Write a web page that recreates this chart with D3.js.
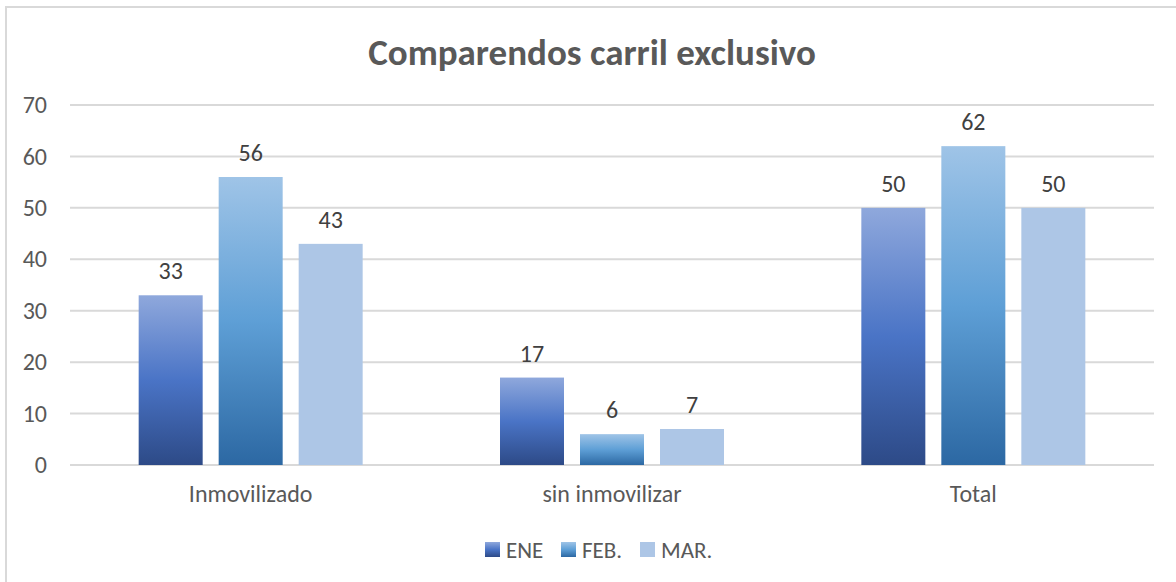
<!DOCTYPE html>
<html>
<head>
<meta charset="utf-8">
<script src="https://cdn.jsdelivr.net/npm/d3@7"></script>
<style>
  body { margin: 0; background: #fff; }
  text { font-family: Carlito, "Open Sans", "Liberation Sans", sans-serif; }
</style>
</head>
<body>
<script>
var categorias = ["Inmovilizado", "sin inmovilizar", "Total"];
var series = ["ENE", "FEB.", "MAR."];
var valores = [
  [33, 56, 43],
  [17, 6, 7],
  [50, 62, 50]
];
var ticksY = [0, 10, 20, 30, 40, 50, 60, 70];

var svg = d3.select("body").append("svg").attr("width", 1176).attr("height", 582);

// borde del grafico
svg.append("rect").attr("x", 6).attr("y", 7).attr("width", 1180).attr("height", 590)
  .attr("fill", "#fff").attr("stroke", "#d9d9d9").attr("stroke-width", 2);

// gradientes tipo Excel
var defs = svg.append("defs");
function gradiente(id, c1, c2, c3) {
  var g = defs.append("linearGradient").attr("id", id).attr("x1", 0).attr("y1", 0).attr("x2", 0).attr("y2", 1);
  g.append("stop").attr("offset", "0%").attr("stop-color", c1);
  g.append("stop").attr("offset", "50%").attr("stop-color", c2);
  g.append("stop").attr("offset", "100%").attr("stop-color", c3);
}
gradiente("g0", "#8fa8dc", "#4a74c6", "#2d4a87");
gradiente("g1", "#9fc4e7", "#5e9fd6", "#2c68a3");
var rellenos = ["url(#g0)", "url(#g1)", "#adc6e6"];

var y = d3.scaleLinear().domain([0, 70]).range([465, 105]);
var x0 = d3.scaleBand().domain(categorias).range([70, 1154]);
var x1 = d3.scaleBand().domain(series).range([0, 224]).paddingInner(0.2);
var off = (x0.bandwidth() - 224) / 2;

// titulo
svg.append("text").attr("x", 592).attr("y", 65).attr("text-anchor", "middle")
  .attr("font-size", 37).attr("font-weight", "bold").attr("fill", "#595959")
  .text("Comparendos carril exclusivo");

// lineas de cuadricula
svg.append("g").selectAll("line").data(ticksY).enter().append("line")
  .attr("x1", 70).attr("x2", 1154)
  .attr("y1", function (d) { return y(d); }).attr("y2", function (d) { return y(d); })
  .attr("stroke", "#d9d9d9").attr("stroke-width", 2);

// eje y
var ejeY = svg.append("g").attr("transform", "translate(47,0)")
  .call(d3.axisLeft(y).tickValues(ticksY).tickSize(0).tickPadding(0));
ejeY.select(".domain").remove();
ejeY.selectAll("text").attr("font-size", 24).attr("fill", "#595959")
  .style("font-family", "Carlito, 'Open Sans', 'Liberation Sans', sans-serif");

// eje x
var ejeX = svg.append("g").attr("transform", "translate(0,481)")
  .call(d3.axisBottom(x0).tickSize(0).tickPadding(4));
ejeX.select(".domain").remove();
ejeX.selectAll("text").attr("font-size", 24).attr("fill", "#595959")
  .style("font-family", "Carlito, 'Open Sans', 'Liberation Sans', sans-serif");

// barras
var grupos = svg.append("g").selectAll("g").data(categorias).enter().append("g")
  .attr("transform", function (d) { return "translate(" + (x0(d) + off) + ",0)"; });

grupos.selectAll("rect").data(function (d, i) {
    return series.map(function (s, j) { return { s: s, j: j, v: valores[i][j] }; });
  }).enter().append("rect")
  .attr("x", function (d) { return x1(d.s); })
  .attr("width", x1.bandwidth())
  .attr("y", function (d) { return y(d.v); })
  .attr("height", function (d) { return y(0) - y(d.v); })
  .attr("fill", function (d) { return rellenos[d.j]; });

grupos.selectAll("text.val").data(function (d, i) {
    return series.map(function (s, j) { return { s: s, j: j, v: valores[i][j] }; });
  }).enter().append("text").attr("class", "val")
  .attr("x", function (d) { return x1(d.s) + x1.bandwidth() / 2; })
  .attr("y", function (d) { return y(d.v) - 16; })
  .attr("text-anchor", "middle").attr("font-size", 24).attr("fill", "#404040")
  .text(function (d) { return d.v; });

// leyenda
var posLeyenda = [485, 561, 640];
var ley = svg.append("g").selectAll("g").data(series).enter().append("g")
  .attr("transform", function (d, i) { return "translate(" + posLeyenda[i] + ",542)"; });
ley.append("rect").attr("width", 15).attr("height", 15)
  .attr("fill", function (d, i) { return rellenos[i]; });
ley.append("text").attr("x", 21).attr("y", 16).attr("font-size", 23).attr("fill", "#595959")
  .text(function (d) { return d; });
</script>
</body>
</html>
